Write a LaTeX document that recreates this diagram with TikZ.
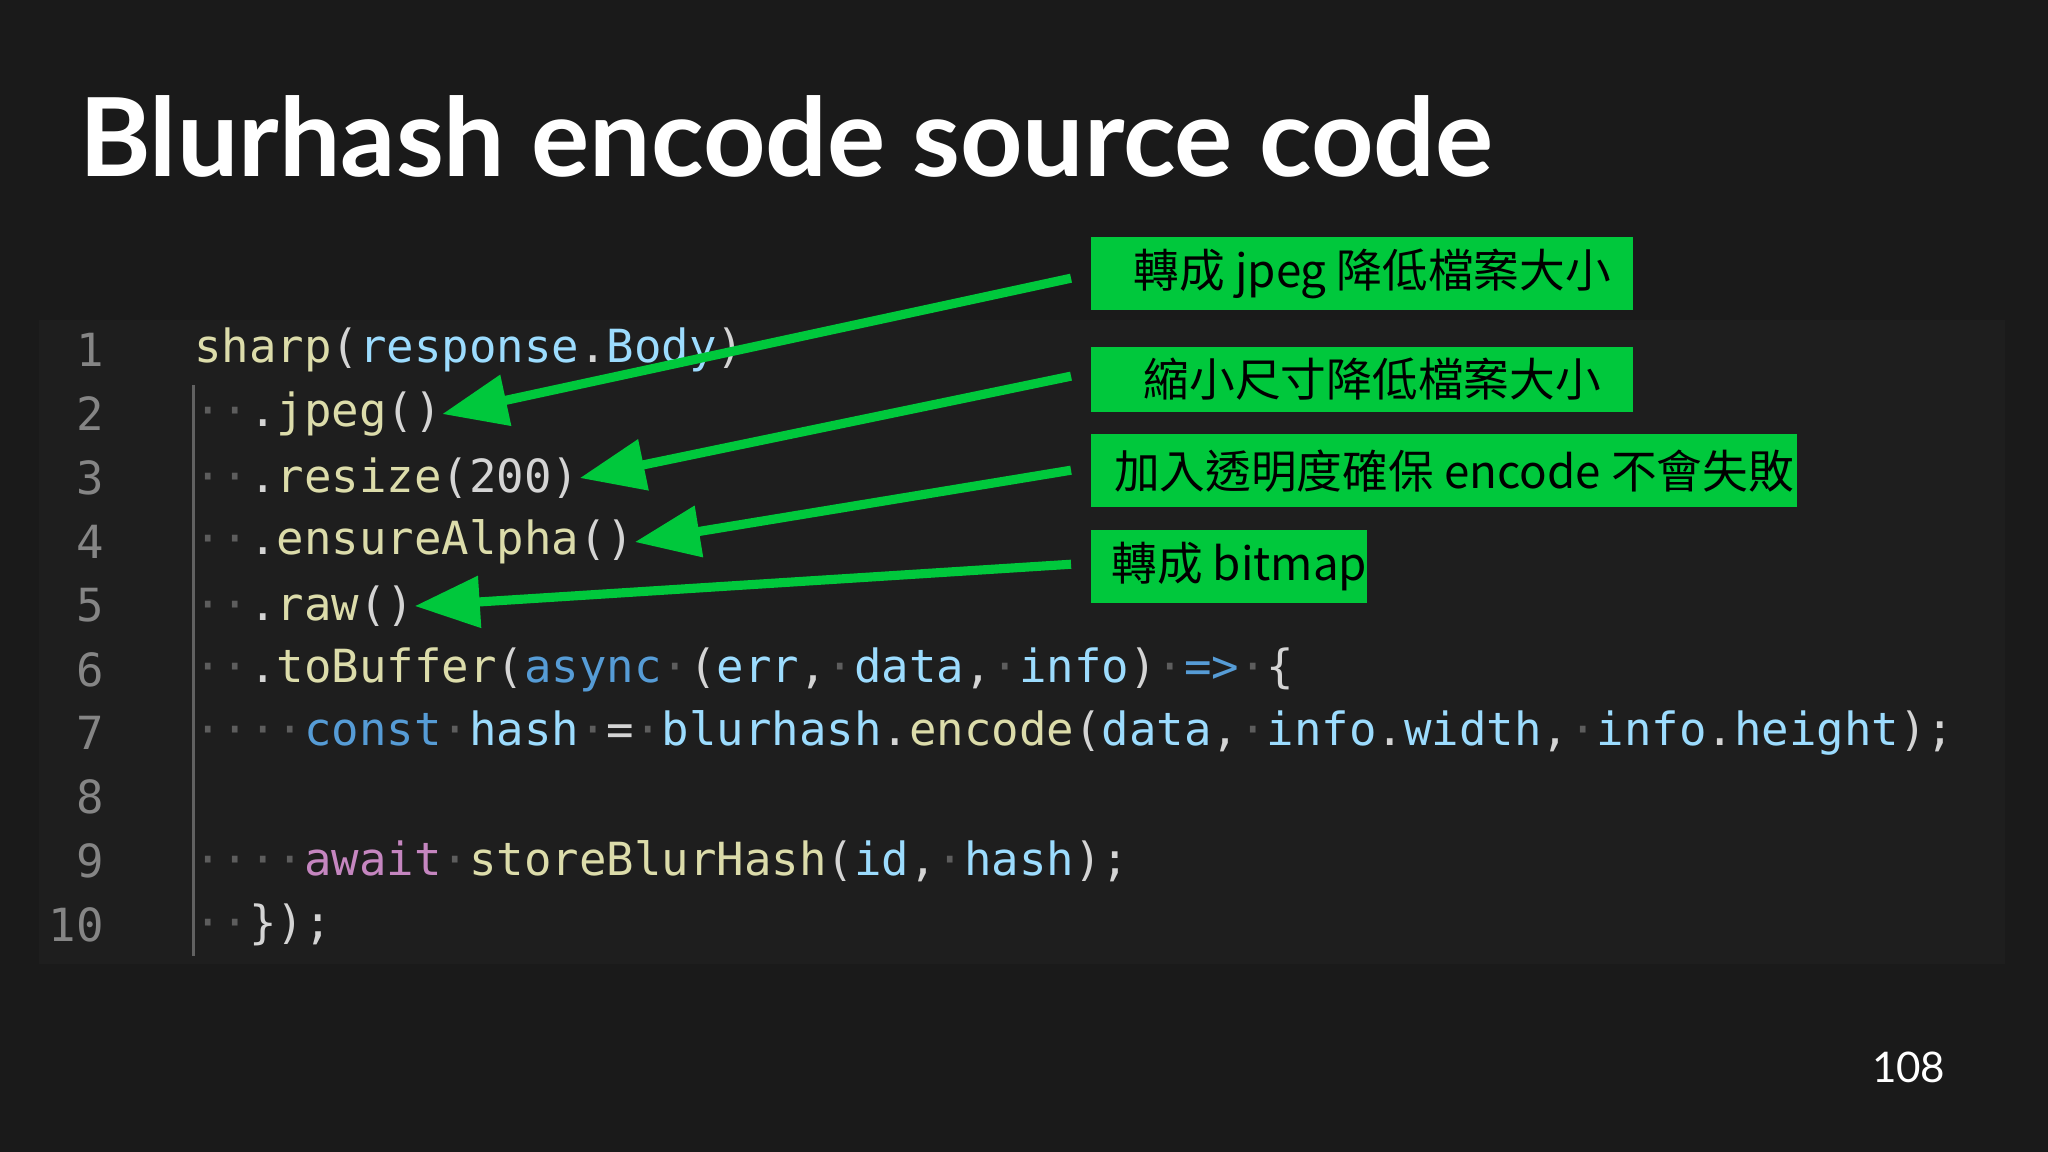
\documentclass[tikz,border=0pt]{standalone}
\usepackage{fontspec}
\setmainfont{Lato}
\setmonofont{DejaVu Sans Mono}
\newfontfamily\cjk{Noto Sans CJK TC}
\usetikzlibrary{arrows.meta}
\definecolor{slidebg}{HTML}{1A1A1A}
\definecolor{codebg}{HTML}{1E1E1E}
\definecolor{tipgreen}{HTML}{00C83C}
\definecolor{fnyellow}{HTML}{DCDCAA}
\definecolor{varblue}{HTML}{9CDCFE}
\definecolor{kwblue}{HTML}{569CD6}
\definecolor{kwpurple}{HTML}{C586C0}
\definecolor{plain}{HTML}{D4D4D4}
\definecolor{lineno}{HTML}{858585}
\newcommand{\fn}[1]{\textcolor{fnyellow}{#1}}
\newcommand{\vr}[1]{\textcolor{varblue}{#1}}
\newcommand{\kw}[1]{\textcolor{kwblue}{#1}}
\newcommand{\kp}[1]{\textcolor{kwpurple}{#1}}
\newcommand{\ws}[1]{\textcolor{white!28!codebg}{#1}}
\begin{document}
\begin{tikzpicture}[x=0.013061cm,y=-0.013061cm,
    codeline/.style={anchor=west,inner sep=0pt,text=plain,font=\ttfamily\fontsize{13}{15}\selectfont},
    linenum/.style={anchor=east,inner sep=0pt,text=lineno,font=\ttfamily\fontsize{13}{15}\selectfont},
    notebox/.style={fill=tipgreen,anchor=north west,inner sep=0pt,minimum height=#1,text=black,font=\cjk\fontsize{13}{15}\selectfont},
    pointer/.style={draw=tipgreen,line width=2.6pt,-{Triangle[length=0.65cm,width=0.5cm]}}]
    \fill[slidebg] (0,0) rectangle (1568,882);
    \useasboundingbox (0,0) rectangle (1568,882);
    \fill[codebg] (30,245) rectangle (1535,738);

    % Titel
    \node[anchor=base west,inner sep=0pt,text=white,font=\fontsize{31}{36}\bfseries\selectfont] (title) at (60,135) {Blurhash encode source code};

    % Einrueckung
    \draw[white!30!codebg,line width=0.8pt] (148,295) -- (148,732);

    % Code
    \foreach \n in {1,...,10}
        \node[linenum] (n\n) at (80,{268+(\n-1)*48.9}) {\n};
    \node[codeline] (c1) at (148,268) {\fn{sharp}(\vr{response}.\vr{Body})};
    \node[codeline] (c2) at (148,317) {\ws{··}.\fn{jpeg}()};
    \node[codeline] (c3) at (148,366) {\ws{··}.\fn{resize}(200)};
    \node[codeline] (c4) at (148,415) {\ws{··}.\fn{ensureAlpha}()};
    \node[codeline] (c5) at (148,464) {\ws{··}.\fn{raw}()};
    \node[codeline] (c6) at (148,513) {\ws{··}.\fn{toBuffer}(\kw{async}\ws{·}(\vr{err},\ws{·}\vr{data},\ws{·}\vr{info})\ws{·}\kw{=>}\ws{·}\{};
    \node[codeline] (c7) at (148,561) {\ws{····}\kw{const}\ws{·}\vr{hash}\ws{·}=\ws{·}\vr{blurhash}.\fn{encode}(\vr{data},\ws{·}\vr{info}.\vr{width},\ws{·}\vr{info}.\vr{height});};
    \node[codeline] (c9) at (148,659) {\ws{····}\kp{await}\ws{·}\fn{storeBlurHash}(\vr{id},\ws{·}\vr{hash});};
    \node[codeline] (c10) at (148,708) {\ws{··}\});};

    % Hinweise
    \node[notebox=56*0.013061cm,minimum width=415*0.013061cm] (t1) at (835,181) {\hspace{0.2cm}轉成 jpeg 降低檔案大小\hfill};
    \node[notebox=50*0.013061cm,minimum width=415*0.013061cm] (t2) at (835,265) {\hspace{0.2cm}縮小尺寸降低檔案大小\hfill};
    \node[notebox=56*0.013061cm,minimum width=540*0.013061cm] (t3) at (835,332) {\hspace{0.2cm}加入透明度確保 encode 不會失敗\hfill};
    \node[notebox=56*0.013061cm,minimum width=210*0.013061cm] (t4) at (835,405) {\hspace{0.2cm}轉成 bitmap\hfill};

    \coordinate (a1) at (820,213);
    \coordinate (a2) at (820,288);
    \coordinate (a3) at (820,360);
    \coordinate (a4) at (820,432);
    \draw[pointer] (a1) -- (c2.east);
    \draw[pointer] (a2) -- (c3.east);
    \draw[pointer] (a3) -- (c4.east);
    \draw[pointer] (a4) -- (c5.east);

    % Seitenzahl
    \node[anchor=base east,inner sep=0pt,text=white,font=\fontsize{12}{14}\selectfont] (page) at (1490,829) {108};
\end{tikzpicture}
\end{document}
